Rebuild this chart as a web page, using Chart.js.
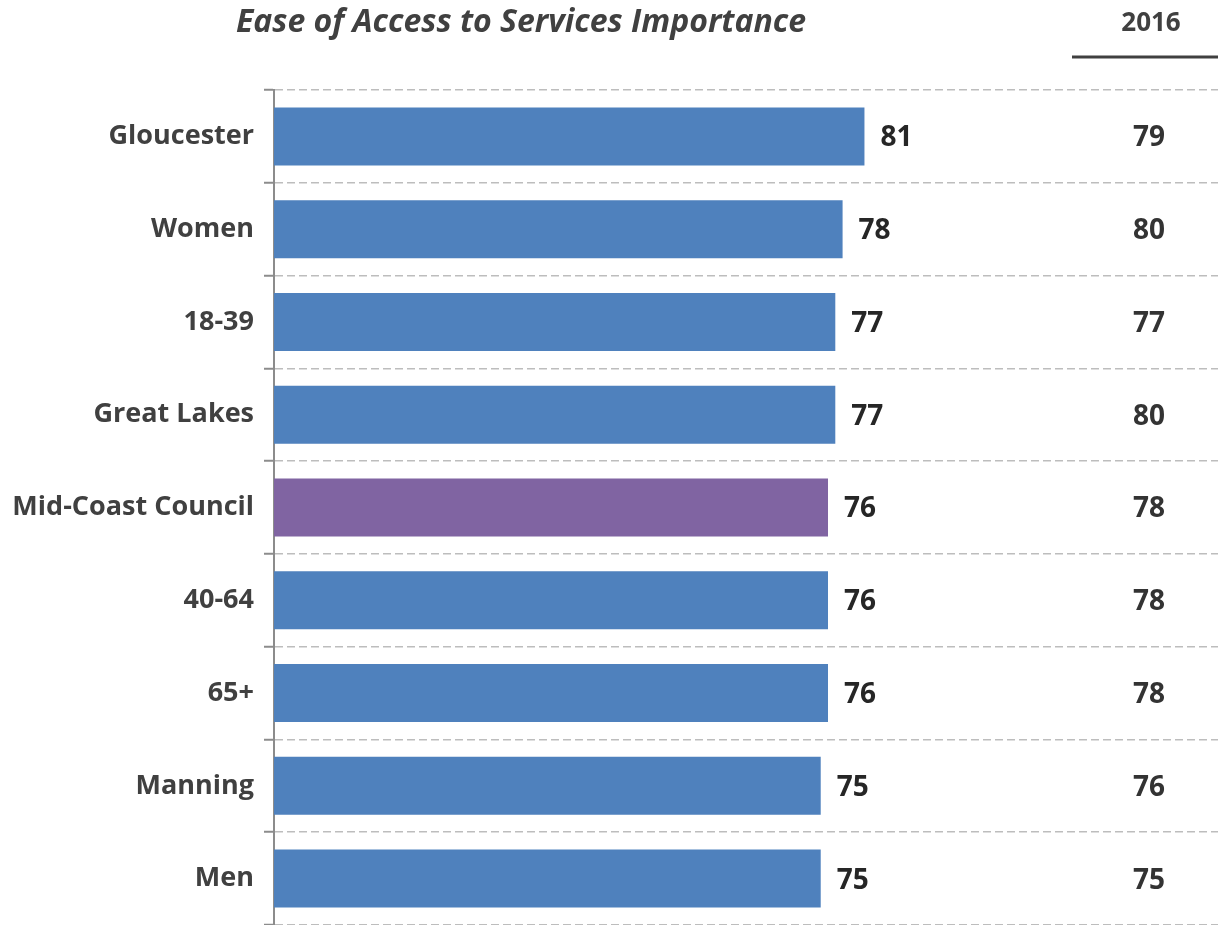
<!DOCTYPE html>
<html>
<head>
<meta charset="utf-8">
<title>Ease of Access to Services Importance</title>
<script src="https://cdn.jsdelivr.net/npm/chart.js@4"></script>
<style>
  html, body { margin: 0; padding: 0; background: #ffffff; }
  canvas { display: block; }
</style>
</head>
<body>
<canvas id="grafico" width="1218" height="925"></canvas>
<script>
// ======== Dados ========
const categorias = ['Gloucester', 'Women', '18-39', 'Great Lakes', 'Mid-Coast Council', '40-64', '65+', 'Manning', 'Men'];
const valoresAtuais = [81, 78, 77, 77, 76, 76, 76, 75, 75];
const valores2016 = [79, 80, 77, 80, 78, 78, 78, 76, 75];
const destaque = 'Mid-Coast Council';

const titulo = 'Ease of Access to Services Importance';
const tituloColuna = '2016';

const FONTE = '"Open Sans", Lato, sans-serif';
const AZUL = '#4F81BD';
const ROXO = '#8064A2';

// ======== Plugin: título, coluna 2016 e rótulos de valor ========
const textosExtras = {
  id: 'textosExtras',
  afterDatasetsDraw(chart) {
    const ctx = chart.ctx;
    const meta = chart.getDatasetMeta(0);
    ctx.save();

    // título em itálico
    ctx.fillStyle = '#404040';
    ctx.font = 'italic bold 32px ' + FONTE;
    ctx.textAlign = 'center';
    ctx.textBaseline = 'middle';
    ctx.fillText(titulo, 521, 23);

    // cabeçalho da coluna 2016 com sublinhado
    ctx.font = 'bold 26px ' + FONTE;
    ctx.fillStyle = '#404040';
    ctx.fillText(tituloColuna, 1151, 24);
    ctx.strokeStyle = '#404040';
    ctx.lineWidth = 3;
    ctx.beginPath();
    ctx.moveTo(1072, 57);
    ctx.lineTo(1218, 57);
    ctx.stroke();

    // valores ao lado das barras e valores de 2016
    meta.data.forEach((barra, i) => {
      ctx.font = 'bold 28px ' + FONTE;
      ctx.fillStyle = '#262626';
      ctx.textAlign = 'left';
      ctx.fillText(String(valoresAtuais[i]), barra.x + 16, barra.y + 2);

      ctx.textAlign = 'center';
      ctx.fillStyle = '#333333';
      ctx.fillText(String(valores2016[i]), 1149, barra.y + 2);
    });

    ctx.restore();
  },
};

// ======== Gráfico ========
const grafico = new Chart(document.getElementById('grafico').getContext('2d'), {
  type: 'bar',
  data: {
    labels: categorias,
    datasets: [
      {
        data: valoresAtuais,
        backgroundColor: categorias.map((c) => (c === destaque ? ROXO : AZUL)),
        categoryPercentage: 1,
        barPercentage: 0.625,
      },
    ],
  },
  options: {
    indexAxis: 'y',
    responsive: false,
    animation: false,
    layout: { padding: { top: 90, right: 0, bottom: -2, left: 0 } },
    plugins: {
      legend: { display: false },
      tooltip: { enabled: false },
    },
    scales: {
      x: {
        display: false,
        min: 0,
        max: 129.5,
      },
      y: {
        afterFit: (escala) => {
          // largura fixa e sem folga extra para os rótulos das pontas
          escala.width = 274;
          escala.paddingTop = 0;
          escala.paddingBottom = 0;
        },
        grid: {
          offset: true,
          color: '#bdbdbd',
          lineWidth: 1.5,
          tickLength: 10,
          tickColor: '#8c8c8c',
          tickWidth: 2,
          tickBorderDash: [],
        },
        border: {
          display: true,
          color: '#8c8c8c',
          width: 2,
          dash: [8, 4],
        },
        ticks: {
          color: '#404040',
          padding: 10,
          font: { family: FONTE, size: 27, weight: 'bold' },
        },
      },
    },
  },
  plugins: [textosExtras],
});
</script>
</body>
</html>
